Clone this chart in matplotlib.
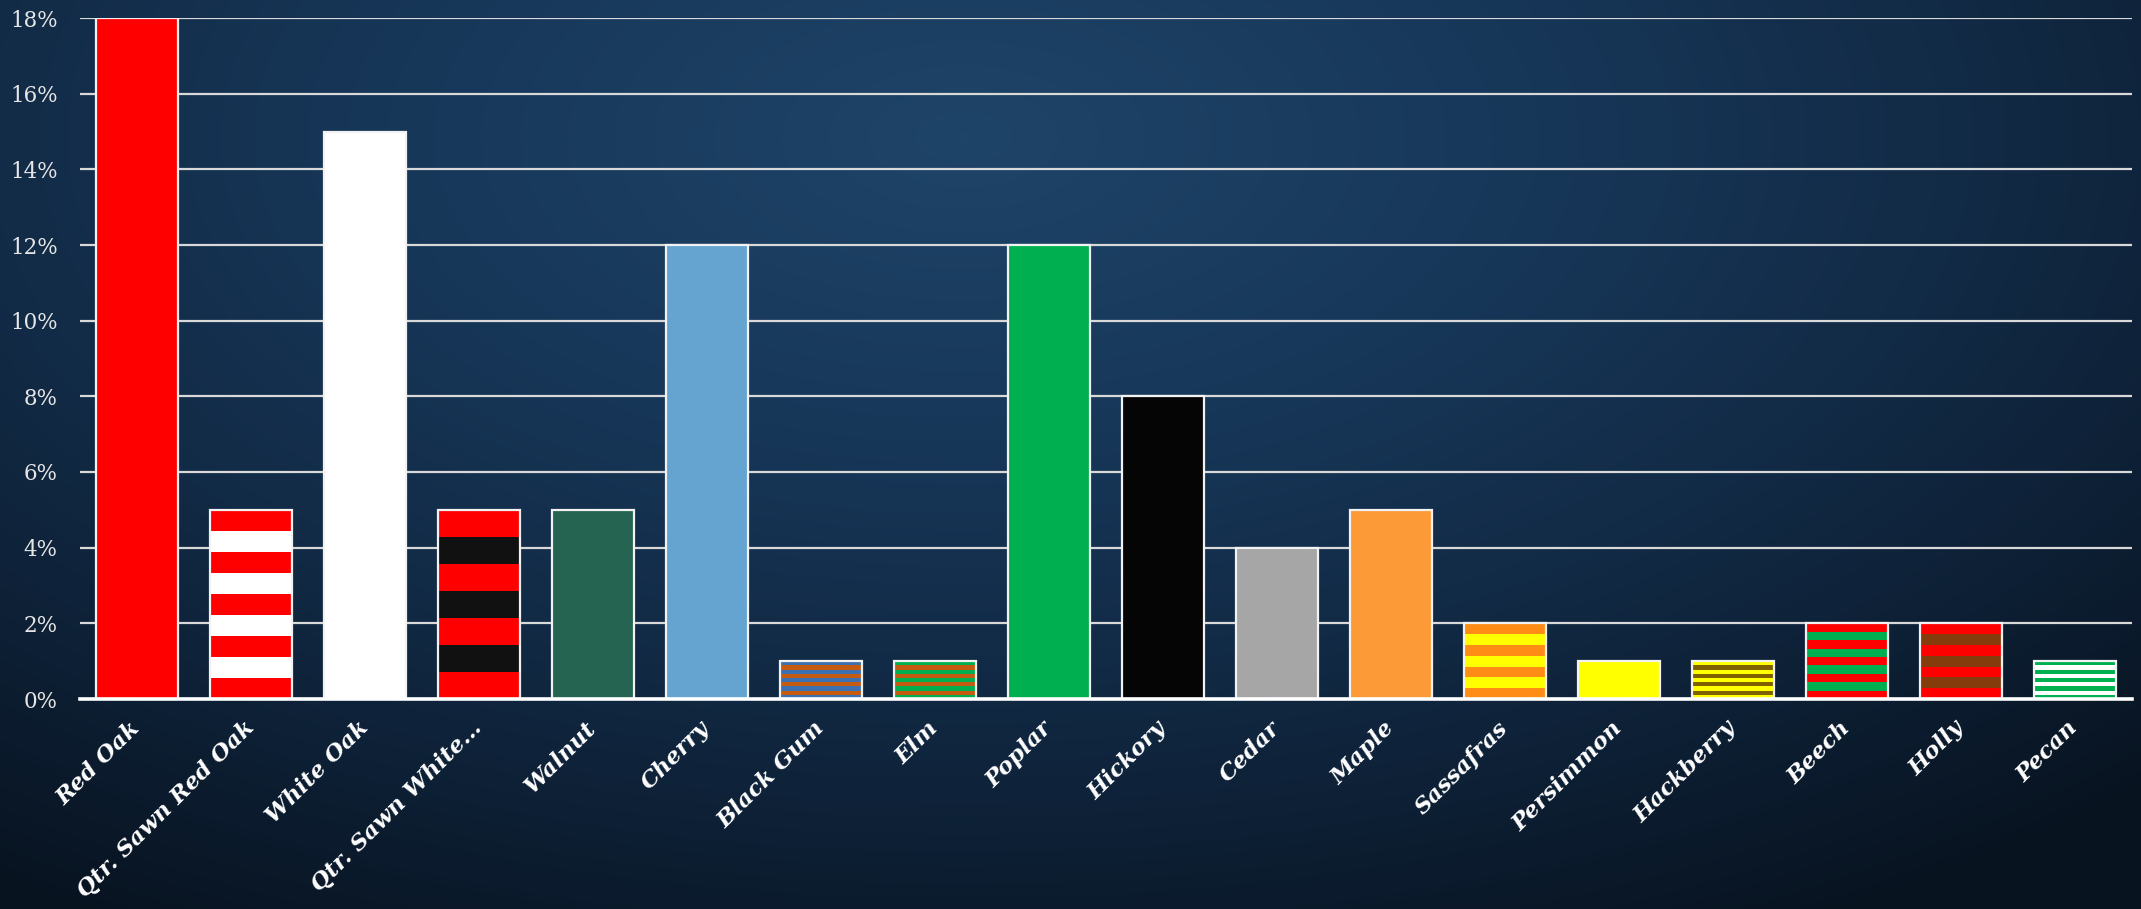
import numpy as np
import matplotlib
matplotlib.use("Agg")
import matplotlib.pyplot as plt
from matplotlib.colors import LinearSegmentedColormap
from matplotlib.ticker import PercentFormatter
import matplotlib.transforms as mtransforms

# ---- data ----
categories = ["Red Oak", "Qtr. Sawn Red Oak", "White Oak", "Qtr. Sawn White…", "Walnut",
              "Cherry", "Black Gum", "Elm", "Poplar", "Hickory", "Cedar", "Maple",
              "Sassafras", "Persimmon", "Hackberry", "Beech", "Holly", "Pecan"]
values = [18, 5, 15, 5, 5, 12, 1, 1, 12, 8, 4, 5, 2, 1, 1, 2, 2, 1]  # percent
# fill colours: one colour = solid, two colours = alternating horizontal stripes
fills = [["#ff0000"], ["#ff0000", "#ffffff"], ["#ffffff"], ["#ff0000", "#111111"],
         ["#246450"], ["#65a3d0"], ["#3d70b0", "#c55a11"], ["#00b050", "#c55a11"],
         ["#00b050"], ["#050505"], ["#a6a6a6"], ["#fd9a38"], ["#ff8c14", "#ffff00"],
         ["#ffff00"], ["#ffff00", "#7f6000"], ["#ff0000", "#00b050"],
         ["#ff0000", "#843c0c"], ["#00b050", "#ffffff"]]
stripe_counts = [1, 9, 1, 7, 1, 1, 9, 9, 1, 1, 1, 1, 7, 1, 9, 9, 7, 9]
yticks = [0, 2, 4, 6, 8, 10, 12, 14, 16, 18]

W, H = 2141, 909
fig = plt.figure(figsize=(W / 100, H / 100), dpi=100)

# ---- background gradient ----
bg = fig.add_axes([0, 0, 1, 1], zorder=-10)
yy, xx = np.mgrid[0:1:300j, 0:1:700j]
d = np.sqrt(((xx - 0.45) / 0.8) ** 2 + ((yy - 0.15) / 1.0) ** 2)
d = np.clip(d, 0, 1)
cmap = LinearSegmentedColormap.from_list("bg", ["#1e4468", "#173759", "#10263f", "#081320"])
bg.imshow(d, cmap=cmap, aspect="auto", extent=[0, 1, 1, 0], interpolation="bilinear")
bg.set_axis_off()

# ---- main axes ----
ax = fig.add_axes([80 / W, 1 - 699 / H, (2132 - 80) / W, (699 - 18) / H])
ax.set_facecolor("none")
x = np.arange(len(categories))
bw = 0.72
for xi, v, cols, n in zip(x, values, fills, stripe_counts):
    seg = v / n
    for k in range(n):
        ax.bar(xi, seg, bottom=k * seg, width=bw, color=cols[k % len(cols)],
               linewidth=0, zorder=3)
ax.bar(x, values, width=bw, fill=False, edgecolor="#f2f2f2", linewidth=1.6, zorder=4)

ax.set_xlim(-0.5, len(categories) - 0.5)
ax.set_ylim(0, 18)
ax.set_yticks(yticks)
ax.yaxis.set_major_formatter(PercentFormatter(decimals=0))
ax.grid(axis="y", color="#d9d9d9", linewidth=1.6, zorder=1)
ax.set_axisbelow(True)
for s in ["top", "right", "left"]:
    ax.spines[s].set_visible(False)
ax.spines["bottom"].set_color("#ffffff")
ax.spines["bottom"].set_linewidth(2.6)
ax.spines["bottom"].set_zorder(5)

ax.tick_params(axis="y", length=0, pad=16, labelcolor="#e6e6e6", labelsize=15.5)
for lab in ax.get_yticklabels():
    lab.set_family("DejaVu Serif")
ax.set_xticks(x)
ax.set_xticklabels(categories, rotation=45, ha="right", rotation_mode="anchor",
                   family="DejaVu Serif", fontweight="bold", fontstyle="italic",
                   fontsize=16.5, color="#ffffff")
ax.tick_params(axis="x", length=0, pad=13)
offset = mtransforms.ScaledTranslation(-8 / 100, 0, fig.dpi_scale_trans)
for lab in ax.get_xticklabels():
    lab.set_transform(lab.get_transform() + offset)

fig.savefig("out.png", dpi=100)
